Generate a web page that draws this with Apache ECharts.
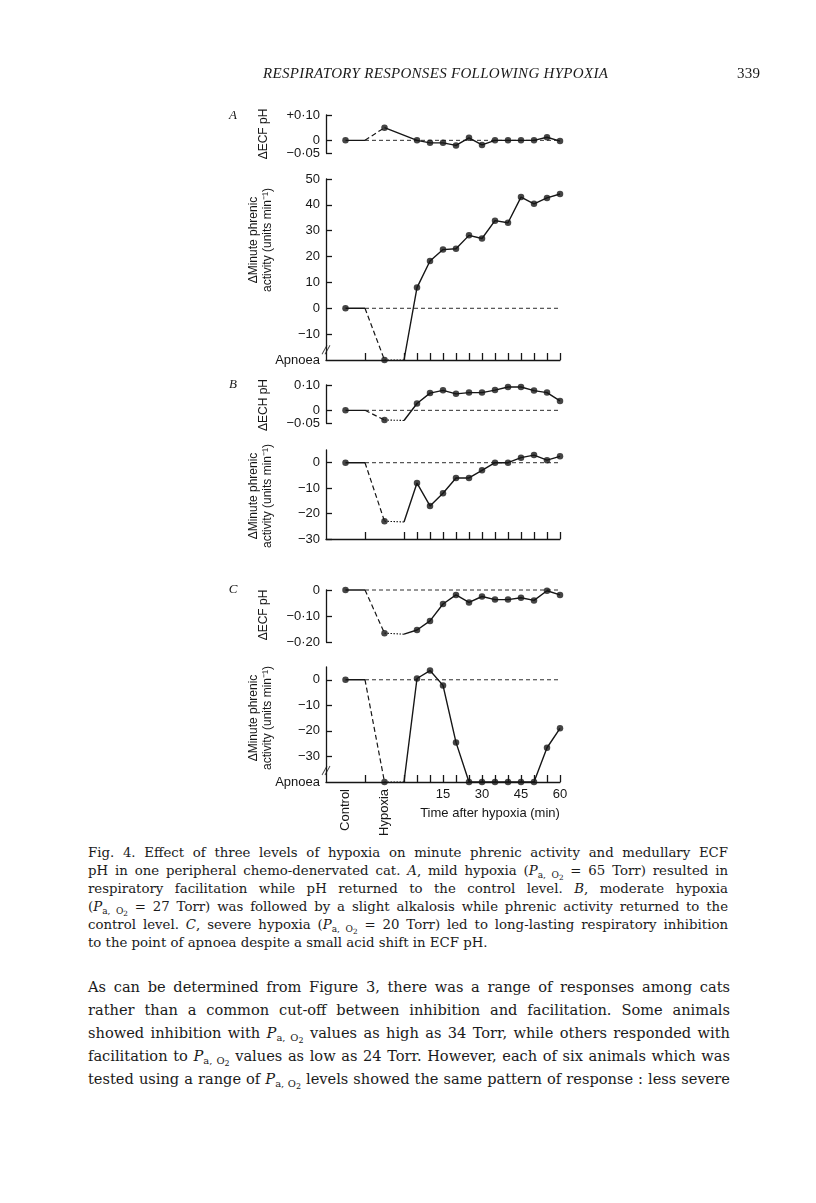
<!DOCTYPE html>
<html>
<head>
<meta charset="utf-8">
<title>Fig. 4</title>
<script src="https://cdn.jsdelivr.net/npm/echarts@6/dist/echarts.min.js"></script>
<style>
body { margin: 0; background: #fff; }
#page { position: relative; width: 816px; height: 1203px; overflow: hidden; background: #fff; color: #1a1a1a; }
#chart { position: absolute; left: 0; top: 0; width: 816px; height: 840px; }
.runhead { position: absolute; top: 65px; font-family: "Liberation Serif", serif; font-size: 15px; letter-spacing: 0.3px; }
.txt { position: absolute; left: 88px; font-family: "DejaVu Serif", serif; }
.txt div { white-space: nowrap; text-align: justify; text-align-last: justify; }
.txt div.last { text-align-last: left; }
#caption { top: 844px; width: 640px; font-size: 13.3px; line-height: 18px; }
#body { top: 975px; width: 642px; font-size: 14.6px; line-height: 23px; }
sub { font-size: 68%; line-height: 0; vertical-align: -0.35em; }
sub sub { font-size: 80%; vertical-align: -0.3em; }
</style>
</head>
<body>
<div id="page">
  <div id="chart"></div>
  <div class="runhead" style="left:263px;font-style:italic;">RESPIRATORY RESPONSES FOLLOWING HYPOXIA</div>
  <div class="runhead" style="left:737px;">339</div>
  <div class="txt" id="caption">
    <div>Fig. 4. Effect of three levels of hypoxia on minute phrenic activity and medullary ECF</div>
    <div>pH in one peripheral chemo-denervated cat. <i>A</i>, mild hypoxia (<i>P</i><sub>a, O<sub>2</sub></sub> = 65 Torr) resulted in</div>
    <div>respiratory facilitation while pH returned to the control level. <i>B</i>, moderate hypoxia</div>
    <div>(<i>P</i><sub>a, O<sub>2</sub></sub> = 27 Torr) was followed by a slight alkalosis while phrenic activity returned to the</div>
    <div>control level. <i>C</i>, severe hypoxia (<i>P</i><sub>a, O<sub>2</sub></sub> = 20 Torr) led to long-lasting respiratory inhibition</div>
    <div class="last">to the point of apnoea despite a small acid shift in ECF pH.</div>
  </div>
  <div class="txt" id="body">
    <div>As can be determined from Figure 3, there was a range of responses among cats</div>
    <div>rather than a common cut-off between inhibition and facilitation. Some animals</div>
    <div>showed inhibition with <i>P</i><sub>a, O<sub>2</sub></sub> values as high as 34 Torr, while others responded with</div>
    <div>facilitation to <i>P</i><sub>a, O<sub>2</sub></sub> values as low as 24 Torr. However, each of six animals which was</div>
    <div>tested using a range of <i>P</i><sub>a, O<sub>2</sub></sub> levels showed the same pattern of response : less severe</div>
  </div>
</div>
<script>
/* 时间轴：对照、缺氧、缺氧后 5~60 min */
var xMin = -30, xMax = 60;
var controlX = -22.5, rampX = -15, hypoxiaX = -7.5, endX = 0;
var afterTimes = [5, 10, 15, 20, 25, 30, 35, 40, 45, 50, 55, 60];
var xTickValues = [-15, 0, 5, 10, 15, 20, 25, 30, 35, 40, 45, 50, 55, 60];
var xLabelValues = [15, 30, 45, 60];
var periodLabels = ['Control', 'Hypoxia'];

/* A 轻度缺氧 */
var phA = [0, 0.05];                       // control, hypoxia
var phA_after = [0, -0.01, -0.01, -0.02, 0.01, -0.018, 0, 0, 0, 0, 0.012, -0.003];
var phrA = [0, -20, -20];                  // control, hypoxia, end (-20 = Apnoea)
var phrA_after = [8, 18.3, 22.7, 23, 28.2, 27, 33.9, 33.1, 43, 40.4, 42.7, 44.2];

/* B 中度缺氧 */
var phB = [0, -0.038, -0.04];
var phB_after = [0.027, 0.068, 0.079, 0.065, 0.07, 0.07, 0.08, 0.092, 0.092, 0.078, 0.07, 0.037];
var phrB = [0, -23, -23.3];
var phrB_after = [-8, -17, -12, -6, -6, -3, 0, 0, 2, 3, 1, 2.5];

/* C 重度缺氧 */
var phC = [0, -0.166, -0.17];
var phC_after = [-0.154, -0.119, -0.054, -0.019, -0.048, -0.025, -0.037, -0.037, -0.03, -0.04, -0.003, -0.019];
var phrC = [0, -40, -40];                  // -40 = Apnoea
var phrC_after = [0.5, 3.6, -2.2, -24.5, -40, -40, -40, -40, -40, -40, -26.6, -19];

/* 纵轴刻度 */
var phA_ticks = [-0.05, 0.1];
var phrA_ticks = [-20, -10, 0, 10, 20, 30, 40, 50];
var phB_ticks = [-0.05, 0.1];
var phrB_ticks = [-30, -20, -10, 0];
var phC_ticks = [-0.2, -0.1, 0];
var phrC_ticks = [-40, -30, -20, -10, 0];
var zeroTick = [0];
var breakA = [xMin, -16];
var breakC = [xMin, -35.5];

var ink = '#161616';
var sans = 'Liberation Sans, Arial, sans-serif';

function fmtPH(plus) {
    return function (v) {
        if (Math.abs(v) < 1e-9) return '0';
        var s = Math.abs(v).toFixed(2).replace('.', '\u00b7');
        return (v < 0 ? '\u2212' : (plus ? '+' : '')) + s;
    };
}
function fmtPhr(apnoea) {
    return function (v) {
        if (v === apnoea) return 'Apnoea';
        return v < 0 ? '\u2212' + Math.abs(v) : String(v);
    };
}

var panels = [
    {grid: {top: 115, height: 38}, min: -0.05, max: 0.1, ticks: phA_ticks, fmt: fmtPH(true), pre: phA, after: phA_after, phrenic: false, extraZero: true},
    {grid: {top: 179, height: 181}, min: -20, max: 50, ticks: phrA_ticks, fmt: fmtPhr(-20), pre: phrA, after: phrA_after, phrenic: true},
    {grid: {top: 385, height: 38}, min: -0.05, max: 0.1, ticks: phB_ticks, fmt: fmtPH(false), pre: phB, after: phB_after, phrenic: false, extraZero: true},
    {grid: {top: 450, height: 89}, min: -30, max: 5, ticks: phrB_ticks, fmt: fmtPhr(null), pre: phrB, after: phrB_after, phrenic: true},
    {grid: {top: 590, height: 52}, min: -0.2, max: 0, ticks: phC_ticks, fmt: fmtPH(false), pre: phC, after: phC_after, phrenic: false},
    {grid: {top: 667, height: 115}, min: -40, max: 5, ticks: phrC_ticks, fmt: fmtPhr(-40), pre: phrC, after: phrC_after, phrenic: true}
];

var grid = [], xAxis = [], yAxis = [], series = [];

function yAxisOf(i, p, labels, ticks, showLine) {
    return {
        gridIndex: i, type: 'value', min: p.min, max: p.max, position: 'left', offset: 0,
        axisLine: {show: showLine, onZero: false, lineStyle: {color: ink, width: 1.3}},
        axisTick: {show: true, inside: true, length: 6, customValues: ticks, lineStyle: {color: ink, width: 1.3}},
        axisLabel: {customValues: labels, formatter: p.fmt, margin: 6, color: ink, fontFamily: sans, fontSize: 13,
            hideOverlap: false, showMinLabel: true, showMaxLabel: true},
        splitLine: {show: false}
    };
}

panels.forEach(function (p, i) {
    grid.push({left: 326, width: 234, top: p.grid.top, height: p.grid.height});
    xAxis.push({
        gridIndex: i, type: 'value', min: xMin, max: xMax, position: 'bottom',
        axisLine: {show: p.phrenic, onZero: false, lineStyle: {color: ink, width: 1.3}},
        axisTick: {show: p.phrenic, inside: true, length: 7, customValues: xTickValues, lineStyle: {color: ink, width: 1.3}},
        axisLabel: {show: i === 5, customValues: xLabelValues, margin: 6, color: ink, fontFamily: sans, fontSize: 13},
        splitLine: {show: false}
    });
    var tickVals = p.ticks.filter(function (v) {
        return !(p.phrenic && v === p.min && (i === 1 || i === 5));
    });
    yAxis.push(yAxisOf(i, p, p.ticks, tickVals, true));

    var base = {xAxisIndex: i, yAxisIndex: i, symbol: 'none', silent: true, clip: false, animation: false};
    // 零线（虚线）
    series.push(Object.assign({type: 'line', data: [[rampX, 0], [xMax, 0]], lineStyle: {color: ink, width: 0.9, type: [4, 3]}, z: 1}, base));
    var c = p.pre[0], h = p.pre[1];
    series.push(Object.assign({type: 'line', data: [[controlX, c], [rampX, c]], lineStyle: {color: ink, width: 1.4}}, base));
    series.push(Object.assign({type: 'line', data: [[rampX, c], [hypoxiaX, h]], lineStyle: {color: ink, width: 1.2, type: [5, 3]}}, base));
    var start = [hypoxiaX, h];
    if (p.pre.length > 2) {
        series.push(Object.assign({type: 'line', data: [[hypoxiaX, h], [endX, p.pre[2]]], lineStyle: {color: ink, width: 1.1, type: [1.5, 1.5]}}, base));
        start = [endX, p.pre[2]];
    }
    var post = [start].concat(p.after.map(function (v, k) { return [afterTimes[k], v]; }));
    series.push(Object.assign({type: 'line', data: post, lineStyle: {color: ink, width: 1.4}}, base));
    var pts = [[controlX, c], [hypoxiaX, h]].concat(p.after.map(function (v, k) { return [afterTimes[k], v]; }));
    series.push({type: 'scatter', xAxisIndex: i, yAxisIndex: i, data: pts, symbol: 'circle', symbolSize: 6.5,
        itemStyle: {color: ink}, silent: true, clip: false, animation: false, z: 5});
});

/* pH 面板的 0 刻度单独放一条轴，避免被重叠隐藏 */
panels.forEach(function (p, i) {
    if (p.extraZero) yAxis.push(yAxisOf(i, p, zeroTick, zeroTick, false));
});

/* 对照 / 缺氧 竖排标签 */
xAxis.push({
    gridIndex: 5, type: 'value', min: xMin, max: xMax, position: 'bottom',
    axisLine: {show: false}, axisTick: {show: false}, splitLine: {show: false},
    axisLabel: {customValues: [controlX, hypoxiaX], rotate: 90, margin: 7, color: ink, fontFamily: sans, fontSize: 13,
        formatter: function (v) { return v === controlX ? periodLabels[0] : periodLabels[1]; }}
});

/* 坐标轴断裂符号 // */
var breakSym = 'path://M0,9L5,0M3,9L8,0';
[[1, breakA], [5, breakC]].forEach(function (b) {
    series.push({type: 'scatter', xAxisIndex: b[0], yAxisIndex: b[0], data: [b[1]], symbol: breakSym, symbolSize: [8, 9],
        itemStyle: {color: 'rgba(0,0,0,0)', borderColor: ink, borderWidth: 1}, silent: true, clip: false, animation: false, z: 6});
});

function vText(x, y, text, size) {
    return {type: 'text', x: x, y: y, rotation: Math.PI / 2,
        style: {text: text, fill: ink, font: (size || 12) + 'px ' + sans, align: 'center', verticalAlign: 'middle', lineHeight: 14}};
}
function letter(x, y, t) {
    return {type: 'text', x: x, y: y, style: {text: t, fill: ink, font: 'italic 13px "Liberation Serif", serif', align: 'center', verticalAlign: 'middle'}};
}
var phrTitle = '\u0394Minute phrenic\nactivity (units min\u207b\u00b9)';

var graphic = [
    letter(233, 116, 'A'), letter(233, 385, 'B'), letter(233, 590, 'C'),
    vText(264, 134, '\u0394ECF pH'),
    vText(261, 240, phrTitle),
    vText(264, 405, '\u0394ECH pH'),
    vText(261, 496, phrTitle),
    vText(264, 615, '\u0394ECF pH'),
    vText(261, 718, phrTitle),
    {type: 'text', x: 490, y: 813, style: {text: 'Time after hypoxia (min)', fill: ink, font: '13px ' + sans, align: 'center', verticalAlign: 'middle'}}
];

var myChart = echarts.init(document.getElementById('chart'));
myChart.setOption({
    backgroundColor: '#fff',
    animation: false,
    grid: grid,
    xAxis: xAxis,
    yAxis: yAxis,
    series: series,
    graphic: graphic
});
</script>
</body>
</html>
